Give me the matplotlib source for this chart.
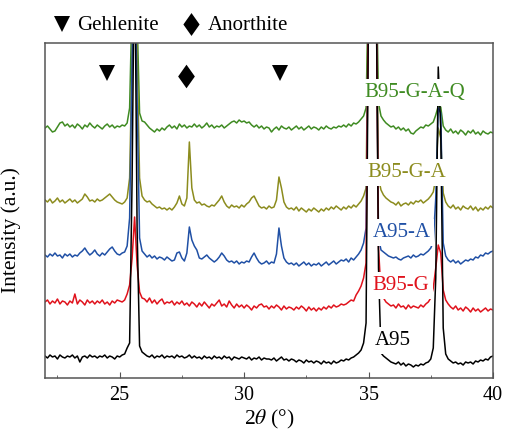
import numpy as np
import matplotlib
matplotlib.use("Agg")
import matplotlib.pyplot as plt
from matplotlib.ticker import MultipleLocator

plt.rcParams['font.family'] = ['Liberation Serif', 'DejaVu Sans']
plt.rcParams['mathtext.fontset'] = 'stix'

# 2theta grid, 22..40 deg in 0.1 deg steps
two_theta = np.round(np.arange(22.0, 40.05, 0.1), 1)

# intensities (a.u., already stacked with offsets)
a95 = [22, 20, 23, 21, 22, 19, 23, 21, 20, 22,
       21, 23, 20, 22, 16, 21, 22, 20, 23, 21,
       22, 20, 22, 21, 23, 20, 22, 21, 19, 22,
       21, 23, 24, 30, 35, 200, 450, 150, 32, 26,
       24, 22, 21, 23, 20, 22, 21, 23, 20, 22,
       21, 22, 20, 23, 21, 22, 20, 21, 23, 20,
       22, 20, 21, 19, 22, 20, 21, 19, 22, 20,
       21, 19, 22, 20, 21, 18, 21, 20, 19, 21,
       20, 19, 21, 18, 20, 19, 21, 18, 20, 19,
       19, 18, 20, 17, 19, 21, 18, 19, 17, 19,
       18, 16, 18, 17, 15, 18, 16, 17, 15, 17,
       16, 14, 17, 15, 16, 14, 17, 15, 16, 18,
       17, 19, 18, 20, 21, 23, 25, 28, 35, 55,
       380, 430, 440, 420, 110, 25, 22, 20, 18, 16,
       15, 14, 16, 13, 15, 12, 14, 13, 11, 13,
       12, 14, 13, 15, 16, 19, 30, 100, 311, 250,
       50, 24, 19, 17, 15, 16, 14, 15, 13, 16,
       15, 16, 14, 17, 16, 18, 17, 19, 18, 21,
       22]

b95_g = [76, 78, 74, 77, 75, 79, 74, 77, 76, 73,
         77, 75, 84, 74, 78, 76, 73, 78, 75, 77,
         74, 77, 75, 78, 74, 76, 73, 77, 75, 78,
         77, 76, 78, 84, 93, 120, 161, 113, 86, 80,
         79, 76, 80, 75, 78, 74, 77, 79, 74, 76,
         75, 77, 73, 76, 74, 77, 73, 75, 72, 76,
         74, 71, 75, 72, 76, 73, 70, 74, 72, 75,
         78, 72, 74, 71, 77, 73, 70, 74, 71, 73,
         70, 73, 71, 68, 72, 70, 73, 74, 71, 72,
         69, 72, 70, 73, 71, 68, 72, 69, 71, 70,
         68, 71, 69, 72, 70, 67, 71, 68, 70, 67,
         70, 68, 71, 69, 72, 70, 73, 71, 72, 74,
         73, 74, 76, 78, 77, 83, 87, 92, 100, 115,
         400, 430, 440, 410, 130, 86, 80, 76, 74, 72,
         73, 70, 74, 71, 72, 69, 73, 70, 72, 71,
         70, 73, 71, 74, 76, 80, 90, 110, 133, 125,
         88, 78, 74, 71, 69, 72, 68, 70, 67, 71,
         69, 66, 70, 67, 69, 66, 68, 70, 67, 69,
         68]

a95_a = [123, 121, 124, 122, 125, 122, 123, 120, 124, 122,
         124, 121, 123, 122, 125, 127, 130, 126, 123, 125,
         128, 124, 122, 125, 123, 126, 129, 131, 127, 124,
         123, 125, 126, 132, 160, 320, 450, 280, 140, 127,
         124, 121, 123, 120, 122, 119, 121, 120, 118, 121,
         119, 117, 118, 125, 126, 120, 117, 125, 151, 138,
         132, 128, 120, 119, 121, 123, 120, 118, 116, 118,
         121, 125, 122, 118, 116, 117, 115, 117, 114, 116,
         115, 117, 116, 121, 125, 120, 116, 114, 115, 117,
         114, 116, 115, 124, 150, 132, 120, 116, 114, 115,
         113, 115, 112, 114, 116, 113, 115, 112, 114, 113,
         115, 112, 114, 116, 113, 115, 117, 114, 116, 118,
         117, 119, 116, 120, 118, 121, 124, 128, 135, 150,
         400, 440, 450, 420, 140, 128, 126, 124, 122, 121,
         120, 121, 119, 118, 120, 121, 122, 120, 123, 121,
         122, 124, 123, 125, 127, 130, 136, 180, 270, 265,
         135, 122, 118, 116, 118, 115, 117, 114, 116, 118,
         117, 119, 118, 121, 120, 123, 122, 125, 124, 126,
         127]

b95_g_a = [178, 176, 179, 175, 177, 180, 176, 178, 175, 177,
           179, 176, 178, 175, 177, 179, 184, 181, 177, 178,
           176, 179, 177, 178, 180, 182, 184, 181, 178, 176,
           175, 174, 176, 180, 200, 320, 450, 330, 200, 182,
           178, 176, 177, 174, 172, 170, 171, 169, 170, 168,
           170, 168, 171, 175, 182, 174, 172, 180, 236, 190,
           178, 175, 176, 173, 174, 172, 171, 173, 172, 175,
           178, 182, 176, 172, 170, 173, 171, 172, 170, 173,
           171, 174, 176, 180, 182, 177, 172, 170, 171, 169,
           172, 170, 171, 178, 201, 190, 176, 171, 169, 170,
           168, 171, 167, 170, 168, 166, 169, 167, 170, 168,
           166, 169, 167, 170, 168, 171, 169, 172, 170, 168,
           171, 169, 172, 170, 173, 171, 174, 177, 182, 190,
           400, 440, 450, 420, 200, 188, 183, 180, 178, 176,
           175, 173, 176, 172, 174, 175, 173, 176, 174, 177,
           176, 178, 175, 177, 179, 182, 186, 200, 250, 240,
           185, 176, 172, 170, 173, 169, 171, 168, 172, 170,
           169, 172, 168, 171, 167, 170, 168, 171, 169, 172,
           170]

b95_g_a_q = [250, 252, 249, 246, 247, 251, 255, 256, 252, 254,
             251, 253, 250, 254, 252, 249, 253, 251, 255, 252,
             250, 253, 251, 249, 252, 254, 251, 253, 250, 252,
             251, 253, 252, 255, 270, 380, 450, 360, 265, 257,
             256, 253, 250, 248, 246, 249, 247, 250, 248, 251,
             253, 250, 252, 249, 254, 251, 253, 250, 252, 251,
             254, 251, 253, 250, 252, 255, 251, 253, 250, 252,
             251, 253, 250, 252, 254, 256, 257, 255, 258, 256,
             257, 255, 256, 253, 251, 253, 250, 252, 249, 251,
             250, 246, 249, 251, 248, 252, 250, 249, 251, 248,
             250, 252, 249, 251, 248, 250, 252, 249, 251, 250,
             248, 251, 249, 252, 250, 249, 251, 250, 252, 251,
             253, 251, 254, 252, 255, 254, 256, 259, 262, 270,
             400, 440, 450, 420, 275, 262, 258, 255, 253, 251,
             252, 249, 251, 248, 250, 247, 249, 245, 244, 247,
             249, 251, 250, 253, 252, 254, 256, 263, 272, 271,
             252, 248, 246, 249, 245, 247, 244, 248, 246, 243,
             247, 245, 248, 244, 246, 243, 247, 245, 244, 246,
             245]

# phase markers
gehlenite_pos = [24.49, 31.46]
anorthite_pos = [27.68]
marker_level = 305

series = [
    ("B95-G-A-Q", b95_g_a_q, "#3f8b22", 34.85, 281),
    ("B95-G-A", b95_g_a, "#8c8c1e", 34.97, 201),
    ("A95-A", a95_a, "#2050a5", 35.17, 141),
    ("B95-G", b95_g, "#e0121c", 35.17, 88),
    ("A95", a95, "#000000", 35.25, 33),
]

diamond = [(-17, 0), (0, 24), (17, 0), (0, -24), (-17, 0)]

fig = plt.figure(figsize=(5.06, 4.33), dpi=100)
ax = fig.add_axes([45 / 506, 1 - 378 / 433, 448 / 506, 335 / 433])

for name, y, c, tx, ty in series:
    ax.plot(two_theta, y, color=c, lw=1.1)
    ax.text(tx, ty, name, color=c, fontsize=15, ha='left', va='baseline',
            zorder=5, bbox=dict(facecolor='white', edgecolor='none', pad=2.5))

ax.plot(gehlenite_pos, [marker_level] * len(gehlenite_pos), 'v', color='black',
        ms=11.5, mew=0, zorder=6)
ax.plot(anorthite_pos, [marker_level - 3] * len(anorthite_pos), marker=diamond,
        ls='none', color='black', ms=17, mew=0, zorder=6)

# legend-like header above the axes
ax.plot([0.039], [1.058], 'v', color='black', ms=11, mew=0,
        transform=ax.transAxes, clip_on=False)
ax.text(0.071, 1.039, 'Gehlenite', fontsize=15, transform=ax.transAxes)
ax.plot([0.327], [1.058], marker=diamond, ls='none', color='black', ms=16.5,
        mew=0, transform=ax.transAxes, clip_on=False)
ax.text(0.364, 1.039, 'Anorthite', fontsize=15, transform=ax.transAxes)

ax.set_xlim(22, 40)
ax.set_ylim(0, 335)
ax.xaxis.set_major_locator(MultipleLocator(5))
ax.xaxis.set_minor_locator(MultipleLocator(2.5))
ax.tick_params(axis='x', which='both', direction='in', labelsize=14.5,
               color='#555555', pad=6)
ax.tick_params(axis='x', which='major', length=4)
ax.tick_params(axis='x', which='minor', length=2.5)
ax.set_yticks([])
for sp in ax.spines.values():
    sp.set_color('#555555')
    sp.set_linewidth(1.1)

ax.set_xlabel(r'2$\theta$ (°)', fontsize=15.5, labelpad=2)
ax.set_ylabel('Intensity (a.u.)', fontsize=15.5)
ax.yaxis.set_label_coords(-0.054, 0.442)

fig.savefig('out.png', dpi=100)
